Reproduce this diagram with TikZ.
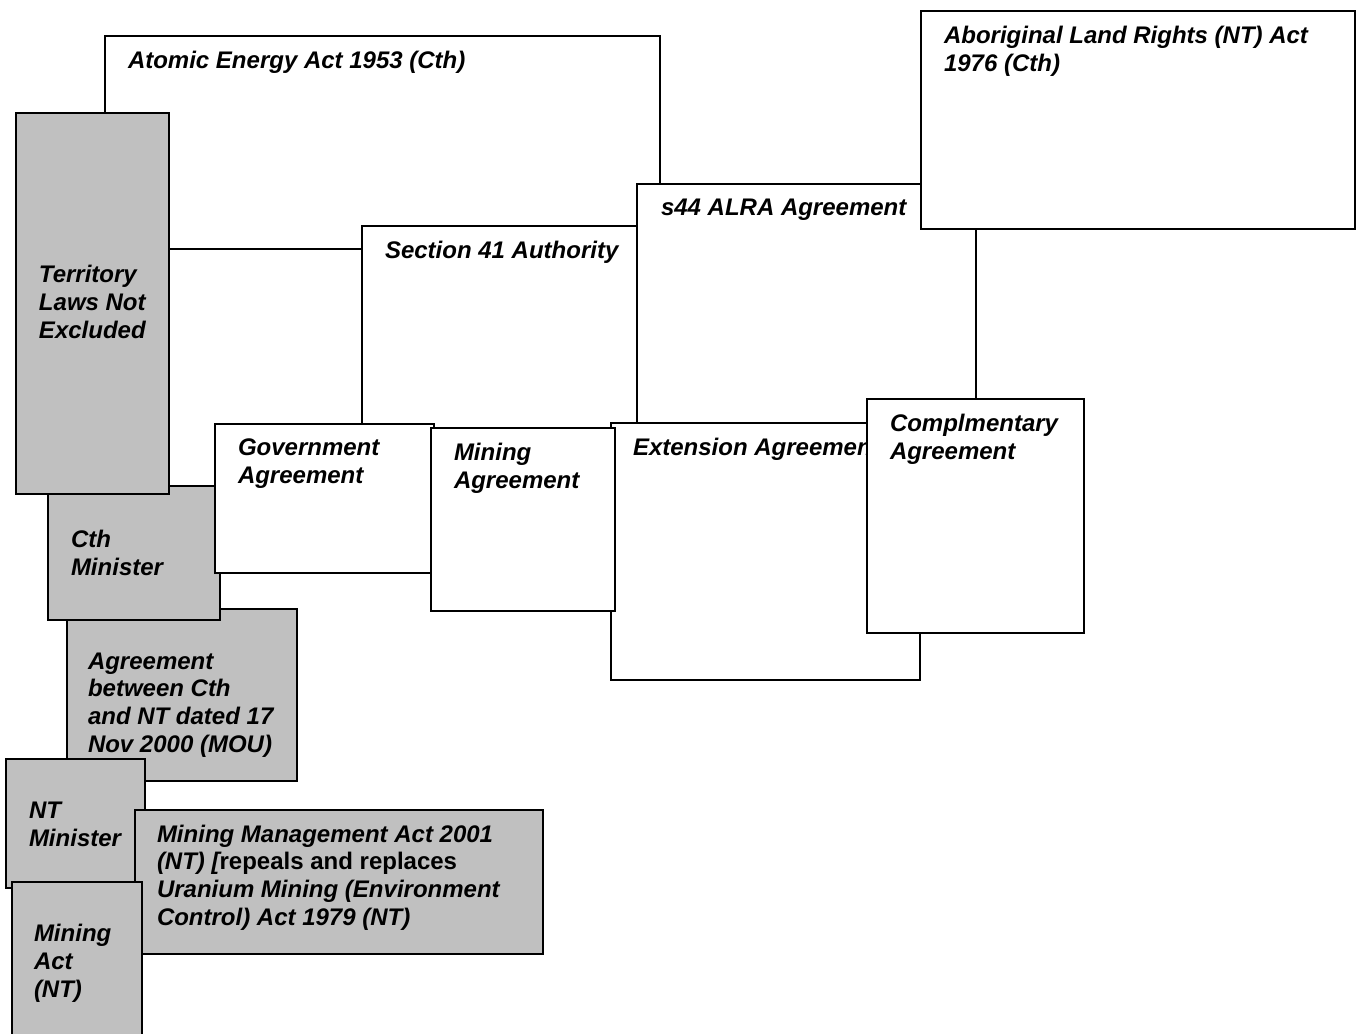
\documentclass[tikz,border=0pt]{standalone}
\usepackage{fontspec}
\setmainfont{Liberation Sans}
\definecolor{boxgray}{HTML}{C0C0C0}
\tikzset{
  frame/.style={draw=black, line width=1pt, fill=white, inner sep=0pt, outer sep=0pt},
  shaded/.style={frame, fill=boxgray},
  % labels are placed by the baseline of their last line
  lbl/.style={inner sep=0pt, outer sep=0pt, anchor=base west, align=left,
              font=\fontsize{12}{13.8}\selectfont\bfseries\itshape},
}
% #1 style, #2 name, #3/#4 top-left corner, #5/#6 bottom-right corner (pixel grid)
\newcommand{\panel}[6]{%
  \node[#1, anchor=north west,
        minimum width={(#5-#3)*0.5pt}, minimum height={(#6-#4)*0.5pt}] (#2) at (#3,#4) {};}
\begin{document}
\begin{tikzpicture}[x=0.5pt, y=-0.5pt]
\useasboundingbox (0,0) rectangle (1356,1034);
\clip (0,0) rectangle (1356,1034);

% Commonwealth legislation and authorities
\panel{frame}{atomic}{105}{36}{660}{249}
\node[lbl] (atomic-t) at (128,68) {Atomic Energy Act 1953 (Cth)};

\panel{frame}{sec41}{362}{226}{637}{440}
\node[lbl] (sec41-t) at (385,258) {Section 41 Authority};

\panel{frame}{s44}{637}{184}{976}{450}
\node[lbl] (s44-t) at (661,215) {s44 ALRA Agreement};

\panel{frame}{alra}{921}{11}{1355}{229}
\node[lbl] (alra-t) at (944,71) {Aboriginal Land Rights (NT) Act\\1976 (Cth)};

% Shaded column on the left
\panel{shaded}{mou}{67}{609}{297}{781}
\node[lbl] (mou-t) at (88,752) {Agreement\\between Cth\\and NT dated 17\\Nov 2000 (MOU)};

\panel{shaded}{cthmin}{48}{486}{220}{620}
\node[lbl] (cthmin-t) at (71,575) {Cth\\Minister};

\panel{shaded}{terr}{16}{113}{169}{494}
\node[lbl] (terr-t) at (39,338) {Territory\\Laws Not\\Excluded};

% Agreements
\panel{frame}{ext}{611}{423}{920}{680}
\node[lbl] (ext-t) at (633,455) {Extension Agreement};

\panel{frame}{gov}{215}{424}{434}{573}
\node[lbl] (gov-t) at (238,483) {Government\\Agreement};

\panel{frame}{minagr}{431}{428}{615}{611}
\node[lbl] (minagr-t) at (454,488) {Mining\\Agreement};

\panel{frame}{compl}{867}{399}{1084}{633}
\node[lbl] (compl-t) at (890,459) {Complmentary\\Agreement};

% Northern Territory side
\panel{shaded}{ntmin}{6}{759}{145}{888}
\node[lbl] (ntmin-t) at (29,846) {NT\\Minister};

\panel{shaded}{mma}{135}{810}{543}{954}
\node[lbl] (mma-t) at (157,925) {Mining Management Act 2001\\(NT) [{\upshape repeals and replaces}\\Uranium Mining (Environment\\Control) Act 1979 (NT)};

\panel{shaded}{minact}{12}{882}{142}{1050}
\node[lbl] (minact-t) at (34,997) {Mining\\Act\\(NT)};
\end{tikzpicture}
\end{document}
